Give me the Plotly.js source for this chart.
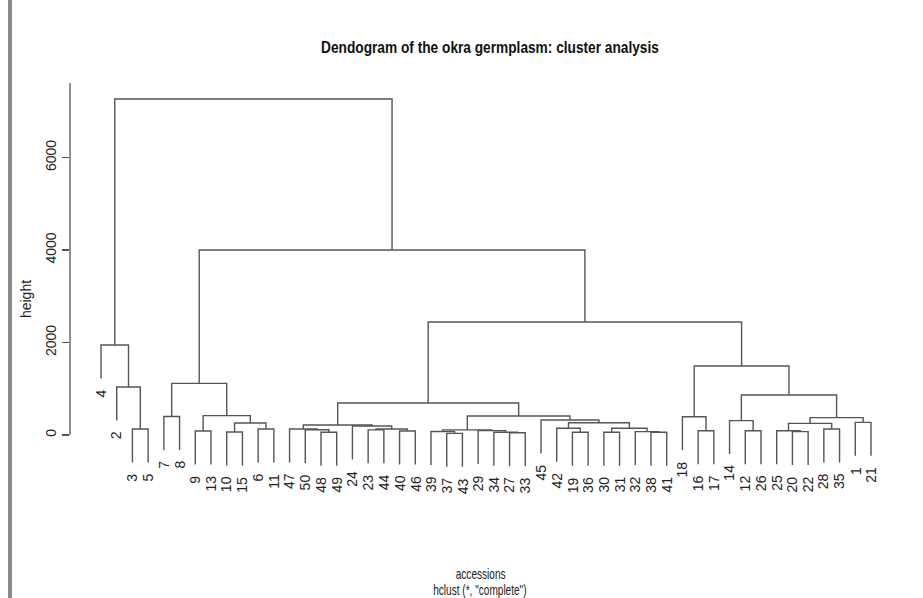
<!DOCTYPE html>
<html>
<head>
<meta charset="utf-8">
<script src="https://cdn.plot.ly/plotly-3.0.1.min.js"></script>
<style>html,body{margin:0;padding:0;background:#fff;}#chart{width:923px;height:598px;}</style>
</head>
<body>
<div id="chart"></div>
<script>
// Leaf (accession) order along the x axis, left to right
const leafOrder = [4,2,3,5,7,8,9,13,10,15,6,11,47,50,48,49,24,23,44,40,46,39,37,43,29,34,27,33,45,42,19,36,30,31,32,38,41,18,16,17,14,12,26,25,20,22,28,35,1,21];
// hclust-style merge table: negative = accession id, positive = earlier merge (1-based)
const mergeA = [-3,-2,-4,-7,-9,-10,-6,6,5,4,-48,-50,-47,-23,-40,14,-24,13,-37,-39,-27,-34,-29,20,-19,-42,-30,-38,-32,27,26,-45,24,18,-16,-18,-12,-14,-20,-25,-28,40,-1,42,38,36,34,10,3];
const mergeB = [-5,1,2,-8,-13,-15,-11,7,8,9,-49,11,12,-44,-46,15,16,17,-43,19,-33,21,22,23,-36,25,-31,-41,28,29,30,31,32,33,-17,35,-26,37,-22,39,-35,41,-21,43,44,45,46,47,48];
const mergeHeight = [130,1038,1946,400,86,65,130,260,420,1117,58,115,130,110,85,130,195,216,35,75,50,60,95,110,58,145,58,58,72,145,266,324,411,692,93,396,93,310,72,93,130,251,274,375,865,1492,2443,4000,7265];
const yTicks = [0,2000,4000,6000];
const hangFrac = 0.1;

const hang = hangFrac * (Math.max(...mergeHeight) - Math.min(...mergeHeight));
const leafPos = {};
leafOrder.forEach((id, i) => { leafPos[id] = i; });
const mX = [], mY = [];
const xs = [], ys = [];
const leafBottom = {};
function childInfo(c, h) {
  if (c < 0) { leafBottom[-c] = h - hang; return [leafPos[-c], h - hang]; }
  return [mX[c-1], mY[c-1]];
}
for (let k = 0; k < mergeHeight.length; k++) {
  const h = mergeHeight[k];
  const a = childInfo(mergeA[k], h), b = childInfo(mergeB[k], h);
  xs.push(a[0], a[0], b[0], b[0], null);
  ys.push(a[1], h, h, b[1], null);
  mX.push((a[0] + b[0]) / 2); mY.push(h);
}

const sans = 'Liberation Sans, Arial, sans-serif';
const annotations = leafOrder.map((id, i) => ({
  x: i, y: leafBottom[id], xref: 'x', yref: 'y', text: String(id), showarrow: false,
  textangle: -90, xanchor: 'center', yanchor: 'top', yshift: -10, borderpad: 0,
  font: {family: sans, size: 14, color: '#222'}
}));
annotations.push({xref: 'paper', yref: 'paper', x: (480-70)/853, y: 1 - 574/598, text: 'accessions', showarrow: false,
  xanchor: 'center', yanchor: 'middle', font: {family: sans, size: 14, color: '#222'}});
annotations.push({xref: 'paper', yref: 'paper', x: (480-70)/853, y: 1 - 590/598, text: 'hclust (*, "complete")', showarrow: false,
  xanchor: 'center', yanchor: 'middle', font: {family: sans, size: 14, color: '#222'}});

const trace = {x: xs, y: ys, type: 'scatter', mode: 'lines', line: {color: '#555', width: 1.4}, hoverinfo: 'skip', connectgaps: false};

const layout = {
  width: 923, height: 598,
  margin: {l: 70, r: 0, t: 0, b: 0},
  paper_bgcolor: '#fff', plot_bgcolor: '#fff',
  showlegend: false,
  title: {text: '<b>Dendogram of the okra germplasm: cluster analysis</b>', x: 490/923, xref: 'container', xanchor: 'center',
    y: 1 - 47/598, yref: 'container', yanchor: 'middle', font: {family: sans, size: 16.5, color: '#111'}},
  xaxis: {range: [-(101-70)/15.714, (923-101)/15.714], showgrid: false, zeroline: false, showline: false, showticklabels: false, ticks: '', fixedrange: true},
  yaxis: {range: [-(598-435)/0.04625, 435/0.04625], showgrid: false, zeroline: false, showline: false,
    tickvals: yTicks, ticktext: yTicks.map(String), ticks: 'outside', ticklen: 7, tickcolor: '#555', tickwidth: 1.3,
    tickangle: -90, tickfont: {family: sans, size: 14, color: '#222'},
    title: {text: 'height', standoff: 8, font: {family: sans, size: 14, color: '#222'}}},
  shapes: [
    {type: 'line', xref: 'paper', yref: 'y', x0: 0, x1: 0, y0: 0, y1: (435-83)/0.04625, line: {color: '#555', width: 1.3}},
    {type: 'line', xref: 'paper', yref: 'paper', x0: (10-70)/853, x1: (10-70)/853, y0: 0, y1: 1, line: {color: '#8a8a8a', width: 4}}
  ],
  annotations: annotations
};
Plotly.newPlot('chart', [trace], layout, {staticPlot: true, displayModeBar: false}).then(() => {
  // the reference's horizontal text is condensed; squeeze it horizontally about its centre
  const squeeze = (el, f) => {
    const b = el.getBBox();
    const cx = b.x + b.width / 2;
    const prev = el.getAttribute('transform') || '';
    el.setAttribute('transform', `translate(${cx},0) scale(${f},1) translate(${-cx},0) ${prev}`);
  };
  document.querySelectorAll('.gtitle').forEach(el => squeeze(el, 0.83));
  document.querySelectorAll('.annotation-text').forEach(el => {
    const t = el.textContent;
    if (t === 'accessions' || t.startsWith('hclust')) squeeze(el, 0.72);
  });
});
</script>
</body>
</html>
